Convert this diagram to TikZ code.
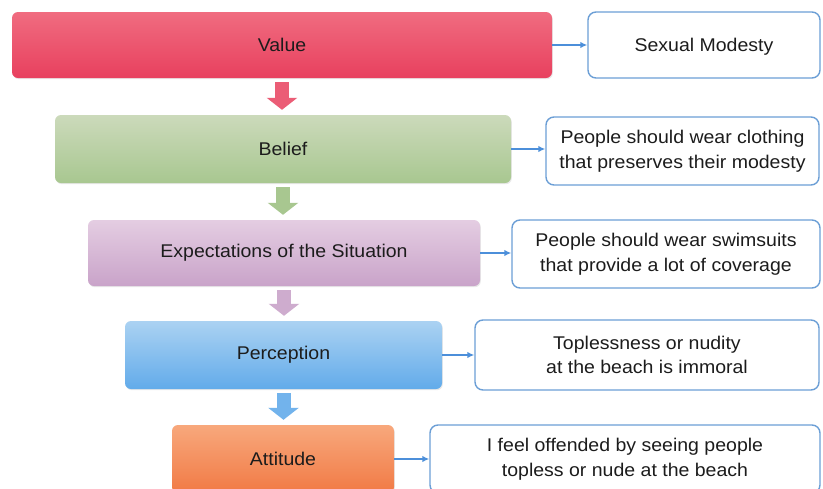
\documentclass[tikz,border=0pt]{standalone}
\usepackage{fontspec}
\setmainfont{Liberation Sans}[FakeStretch=1.06]
\usetikzlibrary{arrows.meta,shadows}
\definecolor{valtop}{HTML}{F06C80}
\definecolor{valbot}{HTML}{E8405E}
\definecolor{beltop}{HTML}{CCDABB}
\definecolor{belbot}{HTML}{A8C790}
\definecolor{exptop}{HTML}{E4CDE2}
\definecolor{expbot}{HTML}{C9A3C9}
\definecolor{pertop}{HTML}{ABD2F2}
\definecolor{perbot}{HTML}{62ABEA}
\definecolor{atttop}{HTML}{F8A87C}
\definecolor{attbot}{HTML}{F17A45}
\definecolor{noteblue}{HTML}{6C9FD6}
\definecolor{linkblue}{HTML}{4C8FDA}
\definecolor{txt}{HTML}{1C1C1C}
\newcommand\diaglbl{\fontsize{18.4}{24.5}\selectfont}
\begin{document}
\begin{tikzpicture}[x=1pt,y=-1pt,
  mainbox/.style={rounded corners=6pt, inner sep=0pt, align=center, font=\diaglbl, text=txt,
    drop shadow={opacity=0.18, shadow xshift=0.8pt, shadow yshift=-1.2pt}},
  notebox/.style={draw=noteblue, line width=1.4pt, fill=white, rounded corners=8pt,
    inner sep=0pt, align=center, font=\diaglbl, text=txt},
  link/.style={draw=linkblue, line width=1.8pt, -{Latex[length=7pt,width=6.5pt]}},
  flow/.style={line width=14pt, -{Triangle[length=12pt,width=30pt]}, shorten <=4pt, shorten >=5pt}]
\clip (0,0) rectangle (823,488);
\path[use as bounding box, fill=white] (0,0) rectangle (823,488);

\node[mainbox, top color=valtop, bottom color=valbot, minimum width=540pt, minimum height=66pt] (value) at (282,45) {Value};
\node[notebox, text height=13pt, text depth=0pt, minimum width=232pt, minimum height=66pt] (modesty) at (704,45) {Sexual Modesty};

\node[mainbox, top color=beltop, bottom color=belbot, minimum width=456pt, minimum height=68pt] (belief) at (283,149) {Belief};
\node[notebox, minimum width=273pt, minimum height=68pt] (clothing) at (682.5,151) {People should wear clothing\\that preserves their modesty};

\node[mainbox, top color=exptop, bottom color=expbot, minimum width=392pt, minimum height=66pt] (expect) at (284,253) {Expectations of the Situation};
\node[notebox, minimum width=308pt, minimum height=68pt] (swimsuits) at (666,254) {People should wear swimsuits\\that provide a lot of coverage};

\node[mainbox, top color=pertop, bottom color=perbot, minimum width=317pt, minimum height=68pt] (percep) at (283.5,355) {Perception};
\node[notebox, minimum width=344pt, minimum height=70pt] (immoral) at (647,355) {Toplessness or nudity\\at the beach is immoral};

\node[mainbox, top color=atttop, bottom color=attbot, minimum width=222pt, minimum height=68pt] (attitude) at (283,459) {Attitude};
\node[notebox, minimum width=390pt, minimum height=68pt] (offended) at (625,459) {I feel offended by seeing people\\topless or nude at the beach};

\draw[link] (value.east) -- (value.east -| modesty.west);
\draw[link] (belief.east) -- (belief.east -| clothing.west);
\draw[link] (expect.east) -- (expect.east -| swimsuits.west);
\draw[link] (percep.east) -- (percep.east -| immoral.west);
\draw[link] (attitude.east) -- (attitude.east -| offended.west);

\draw[flow, draw=valbot!85!white, fill=valbot!85!white] (value.south) -- (value.south |- belief.north);
\draw[flow, draw=belbot, fill=belbot] (belief.south) -- (belief.south |- expect.north);
\draw[flow, draw=expbot!90!white, fill=expbot!90!white] (expect.south) -- (expect.south |- percep.north);
\draw[flow, draw=perbot!90!white, fill=perbot!90!white] (percep.south) -- (percep.south |- attitude.north);
\end{tikzpicture}
\end{document}
